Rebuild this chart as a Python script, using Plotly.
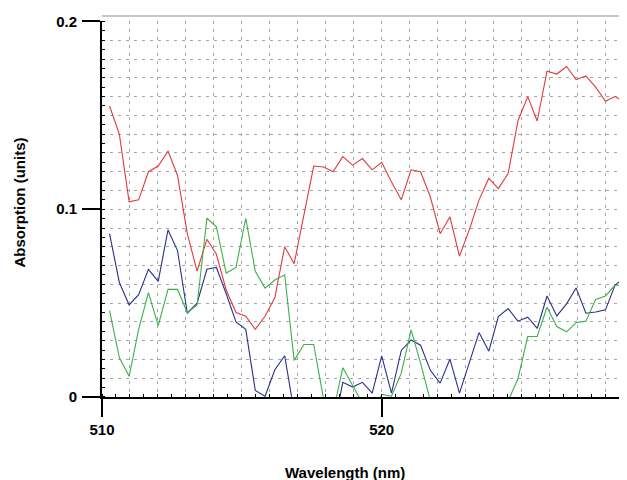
import plotly.graph_objects as go

# Wavelength samples (nm)
wavelength = [510.27, 510.62, 510.97, 511.31, 511.66, 512.01, 512.36, 512.70, 513.05, 513.40,
              513.75, 514.09, 514.44, 514.79, 515.14, 515.48, 515.83, 516.18, 516.53, 516.87,
              517.22, 517.57, 517.92, 518.26, 518.61, 518.96, 519.31, 519.66, 520.00, 520.35,
              520.70, 521.05, 521.39, 521.74, 522.09, 522.44, 522.78, 523.13, 523.48, 523.83,
              524.17, 524.52, 524.87, 525.22, 525.56, 525.91, 526.26, 526.61, 526.95, 527.30,
              527.65, 528.00, 528.34, 528.69]

red_absorption = [0.155, 0.140, 0.104, 0.105, 0.120, 0.123, 0.131, 0.118, 0.087, 0.067,
                  0.084, 0.076, 0.057, 0.045, 0.043, 0.036, 0.043, 0.053, 0.080, 0.071,
                  0.097, 0.123, 0.1225, 0.120, 0.128, 0.1235, 0.127, 0.121, 0.125, 0.1145,
                  0.105, 0.121, 0.120, 0.1065, 0.087, 0.096, 0.075, 0.089, 0.105, 0.1165,
                  0.111, 0.119, 0.147, 0.160, 0.147, 0.1735, 0.172, 0.176, 0.169, 0.171,
                  0.165, 0.1575, 0.160, 0.157]

blue_absorption = [0.087, 0.061, 0.049, 0.0545, 0.068, 0.0616, 0.089, 0.078, 0.0446, 0.050,
                   0.068, 0.069, 0.055, 0.040, 0.036, 0.0035, 0.0004, 0.0145, 0.022, -0.008,
                   -0.020, -0.030, -0.025, -0.018, 0.0078, 0.0053, 0.0078, 0.0021, 0.0219, 0.0021,
                   0.0248, 0.0304, 0.0276, 0.0142, 0.0074, 0.0202, 0.0021, 0.018, 0.0343, 0.0244,
                   0.0428, 0.0471, 0.0404, 0.0425, 0.0365, 0.0538, 0.0432, 0.0496, 0.0581, 0.0446,
                   0.0453, 0.0464, 0.0595, 0.0637]

green_absorption = [0.046, 0.021, 0.011, 0.036, 0.0556, 0.038, 0.0573, 0.0573, 0.045, 0.049,
                    0.0952, 0.0906, 0.066, 0.069, 0.0952, 0.067, 0.058, 0.0623, 0.0651, 0.0195,
                    0.028, 0.028, -0.001, -0.0084, 0.0156, 0.006, -0.0043, -0.0126, 0.0014, 0.0004,
                    0.0127, 0.0358, 0.018, -0.002, -0.010, -0.020, -0.015, -0.020, -0.012, -0.015,
                    -0.010, -0.002, 0.0096, 0.0322, 0.0322, 0.0478, 0.0375, 0.0347, 0.0396, 0.0404,
                    0.052, 0.0538, 0.0595, 0.0595]

x_tick_vals = [510, 520]
x_tick_text = ["510", "520"]
y_tick_vals = [0, 0.1, 0.2]
y_tick_text = ["0", "0.1", "0.2"]
x_title = "Wavelength (nm)"
y_title = "Absorption (units)"

FONT = "Liberation Sans, Arial, sans-serif"
X_RANGE = [510, 528.77]
Y_RANGE = [0, 0.2]
GRID = "#a4a4a4"
GRID_DASH = "3px,5px"

fig = go.Figure()
fig.add_trace(go.Scatter(x=wavelength, y=red_absorption, mode="lines",
                         line=dict(color="#e2393b", width=1.1), showlegend=False))
fig.add_trace(go.Scatter(x=wavelength, y=blue_absorption, mode="lines",
                         line=dict(color="#2c2f8e", width=1.1), showlegend=False))
fig.add_trace(go.Scatter(x=wavelength, y=green_absorption, mode="lines",
                         line=dict(color="#3bb04a", width=1.1), showlegend=False))
# empty trace to host the grid/frame overlay axes
fig.add_trace(go.Scatter(x=[], y=[], xaxis="x2", yaxis="y2", showlegend=False,
                         hoverinfo="skip"))

bold = dict(family=FONT, size=15, weight="bold", color="black")

fig.update_layout(
    width=619, height=472,
    margin=dict(l=94, r=0, t=8, b=83, autoexpand=False),
    paper_bgcolor="white", plot_bgcolor="white",
    font=dict(family=FONT, color="black", size=15),
    xaxis=dict(
        range=X_RANGE, domain=[0, 1],
        tickmode="array", tickvals=x_tick_vals, ticktext=x_tick_text,
        ticks="outside", ticklen=18, tickwidth=2, tickcolor="black",
        showline=True, linewidth=2, linecolor="black",
        showgrid=False, zeroline=False,
        tickfont=bold,
        minor=dict(ticks="inside", ticklen=3, tickwidth=1, tickcolor="black",
                   dtick=0.5, tick0=510, showgrid=False),
    ),
    yaxis=dict(
        range=Y_RANGE, domain=[0, 0.9856],
        tickmode="array", tickvals=y_tick_vals, ticktext=y_tick_text,
        ticks="outside", ticklen=18, tickwidth=2, tickcolor="black",
        showline=True, linewidth=2, linecolor="black",
        showgrid=False, zeroline=False,
        tickfont=bold, ticklabelstandoff=2,
        minor=dict(ticks="inside", ticklen=3, tickwidth=1, tickcolor="black",
                   dtick=0.005, tick0=0, showgrid=False),
    ),
    xaxis2=dict(
        overlaying="x", anchor="free", position=1, side="top",
        range=X_RANGE, tick0=510, dtick=1,
        showgrid=True, gridcolor=GRID, gridwidth=1, griddash=GRID_DASH,
        showticklabels=False, ticks="", zeroline=False,
        showline=True, linecolor="#c8c8c2", linewidth=1.5,
    ),
    yaxis2=dict(
        overlaying="y", anchor="x2", side="left",
        range=Y_RANGE, tick0=0, dtick=0.01,
        showgrid=True, gridcolor=GRID, gridwidth=1, griddash=GRID_DASH,
        showticklabels=False, ticks="", zeroline=False, showline=False,
    ),
    annotations=[
        dict(text=x_title, xref="paper", yref="paper", x=0.4629, y=-0.1969,
             xanchor="center", yanchor="middle", showarrow=False, font=bold),
        dict(text=y_title, xref="paper", yref="paper", x=-0.1562, y=0.5105,
             xanchor="center", yanchor="middle", textangle=-90, showarrow=False,
             font=bold),
    ],
)

fig.write_html("out.html")
